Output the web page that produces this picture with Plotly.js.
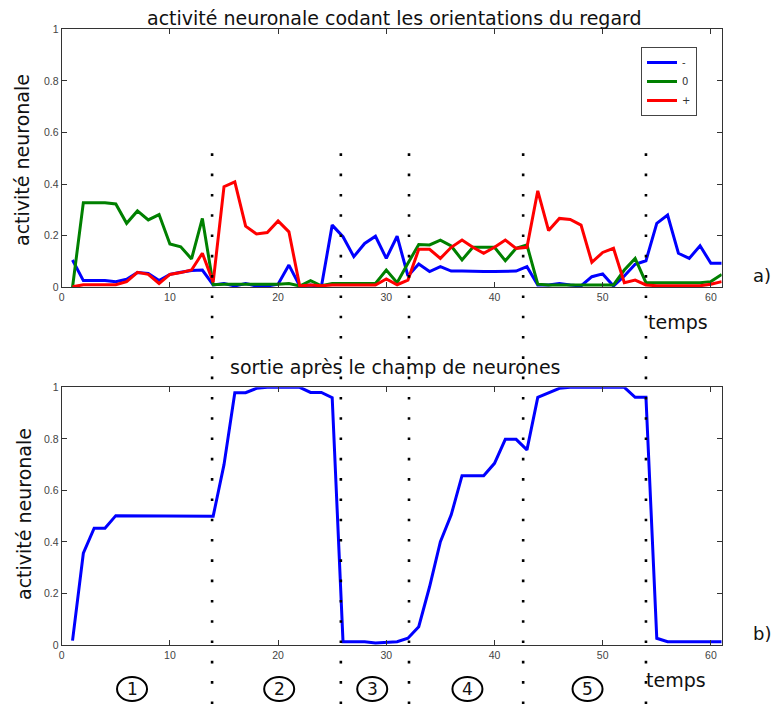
<!DOCTYPE html>
<html><head><meta charset="utf-8">
<script src="https://cdn.plot.ly/plotly-3.0.1.min.js"></script>
<style>html,body{margin:0;padding:0;background:#fff}#chart{width:772px;height:708px}</style>
</head><body><div id="chart"></div>
<script>
// ---- data ----
const timeSteps = [1,2,3,4,5,6,7,8,9,10,11,12,13,14,15,16,17,18,19,20,21,22,23,24,25,26,27,28,29,30,31,32,33,34,35,36,37,38,39,40,41,42,43,44,45,46,47,48,49,50,51,52,53,54,55,56,57,58,59,60,61];
const activityMinus = [0.106,0.026,0.026,0.026,0.022,0.031,0.057,0.054,0.026,0.050,0.058,0.065,0.067,0.009,0.015,0.005,0.015,0.005,0.005,0.012,0.086,0.005,0.009,0.002,0.241,0.196,0.119,0.170,0.198,0.112,0.198,0.044,0.090,0.061,0.080,0.063,0.063,0.061,0.061,0.061,0.063,0.063,0.080,0.009,0.009,0.015,0.009,0.005,0.041,0.052,0.005,0.044,0.089,0.103,0.248,0.280,0.132,0.112,0.161,0.093,0.093];
const activityZero = [0.000,0.328,0.328,0.328,0.323,0.248,0.296,0.261,0.282,0.168,0.157,0.110,0.267,0.010,0.012,0.012,0.012,0.012,0.012,0.012,0.015,0.005,0.026,0.006,0.015,0.015,0.015,0.015,0.015,0.067,0.018,0.093,0.166,0.164,0.183,0.160,0.106,0.155,0.155,0.155,0.103,0.151,0.164,0.012,0.009,0.009,0.009,0.009,0.009,0.009,0.009,0.067,0.112,0.018,0.018,0.018,0.018,0.018,0.018,0.022,0.050];
const activityPlus = [0.002,0.010,0.010,0.010,0.010,0.022,0.058,0.050,0.015,0.050,0.057,0.067,0.132,0.020,0.390,0.409,0.237,0.207,0.212,0.257,0.215,0.005,0.009,0.006,0.009,0.009,0.009,0.009,0.009,0.032,0.010,0.028,0.147,0.147,0.112,0.155,0.183,0.155,0.132,0.155,0.183,0.151,0.155,0.374,0.220,0.267,0.263,0.241,0.097,0.135,0.151,0.018,0.028,0.009,0.006,0.006,0.006,0.006,0.006,0.012,0.022];
const fieldOutput = [0.017,0.356,0.453,0.453,0.502,0.502,0.502,0.502,0.502,0.502,0.502,0.502,0.502,0.500,0.700,0.979,0.979,0.996,1.000,1.000,1.000,1.000,0.980,0.980,0.960,0.013,0.013,0.013,0.008,0.010,0.013,0.026,0.071,0.226,0.401,0.505,0.657,0.657,0.657,0.705,0.798,0.798,0.757,0.961,0.977,0.996,1.000,1.000,1.000,1.000,1.000,1.000,0.961,0.961,0.026,0.013,0.013,0.013,0.013,0.013,0.013];
const seriesNames = ['-', '0', '+'];
const phaseBoundaries = [13.9, 25.8, 32.1, 42.65, 54.0];
const phaseLabels = ['1', '2', '3', '4', '5'];
const xTickVals = [0, 10, 20, 30, 40, 50, 60];
const yTickVals = [0, 0.2, 0.4, 0.6, 0.8, 1];
const yTickText = ['0', '0.2', '0.4', '0.6', '0.8', '1'];

// ---- layout helpers ----
const W = 772, H = 708;
const px = x => x / W;
const py = y => 1 - y / H;
const FONT = 'DejaVu Sans, sans-serif';
const TICKFONT = {family: 'Liberation Sans, Arial, sans-serif', size: 10.5, color: '#444'};

const colors = ['#0000ff', '#008000', '#ff0000'];
const topSeries = [activityMinus, activityZero, activityPlus];

const traces = topSeries.map((vals, i) => ({
  type: 'scatter', mode: 'lines', x: timeSteps, y: vals, name: seriesNames[i],
  line: {color: colors[i], width: 3}, xaxis: 'x', yaxis: 'y', showlegend: true
}));
traces.push({
  type: 'scatter', mode: 'lines', x: timeSteps, y: fieldOutput, name: 'sortie',
  line: {color: '#0000ff', width: 3}, xaxis: 'x2', yaxis: 'y2', showlegend: false
});

function xAxis(domain) {
  return {domain: domain, range: [0, 61], tickvals: xTickVals, ticks: 'inside', ticklen: 5,
    tickcolor: '#333', showline: true, linecolor: '#333', linewidth: 1, mirror: 'allticks',
    showgrid: false, zeroline: false, tickfont: TICKFONT, fixedrange: true};
}
function yAxis(domain, anchor) {
  return {domain: domain, range: [0, 1], tickvals: yTickVals, ticktext: yTickText, ticks: 'inside', ticklen: 5,
    tickcolor: '#333', showline: true, linecolor: '#333', linewidth: 1, mirror: 'allticks',
    showgrid: false, zeroline: false, tickfont: TICKFONT, anchor: anchor, fixedrange: true};
}

const xDom = [px(61.7), px(721.7)];
const shapes = [];
phaseBoundaries.forEach(b => {
  shapes.push({type: 'line', xref: 'x', yref: 'paper', x0: b, x1: b, y0: py(153.3), y1: py(705),
    line: {color: '#000', width: 2.6, dash: '2.6px,17.7px'}, layer: 'above'});
});
const circleCenters = [6.5, 20.1, 28.7, 37.5, 48.6];
circleCenters.forEach(c => {
  shapes.push({type: 'circle', xref: 'x2', yref: 'paper', xsizemode: 'pixel', ysizemode: 'pixel',
    xanchor: c, yanchor: py(689), x0: -15, x1: 15, y0: -12, y1: 12,
    line: {color: '#000', width: 2}});
});

const annotations = [
  {text: 'activité neuronale codant les orientations du regard', x: px(394), y: py(18), font: {size: 19}},
  {text: 'sortie après le champ de neurones', x: px(395), y: py(367), font: {size: 19}},
  {text: 'activité neuronale', x: px(22), y: py(160), textangle: -90, font: {size: 19}},
  {text: 'activité neuronale', x: px(24), y: py(514), textangle: -90, font: {size: 19}},
  {text: 'temps', x: px(678), y: py(322), font: {size: 19}},
  {text: 'temps', x: px(676), y: py(680), font: {size: 19}},
  {text: 'a)', x: px(762), y: py(275), font: {size: 18}},
  {text: 'b)', x: px(762), y: py(633), font: {size: 18}}
].map(a => Object.assign({xref: 'paper', yref: 'paper', showarrow: false, xanchor: 'center', yanchor: 'middle'}, a,
  {font: Object.assign({family: FONT, color: '#111'}, a.font)}));
circleCenters.forEach((c, i) => {
  annotations.push({text: phaseLabels[i], xref: 'x2', yref: 'paper', x: c, y: py(689), showarrow: false,
    xanchor: 'center', yanchor: 'middle', font: {family: FONT, size: 17, color: '#111'}});
});

const layout = {
  width: W, height: H, margin: {l: 0, r: 0, t: 0, b: 0}, paper_bgcolor: '#fff', plot_bgcolor: '#fff',
  font: {family: FONT},
  xaxis: Object.assign(xAxis(xDom), {anchor: 'y'}),
  yaxis: yAxis([py(287.3), py(29.3)], 'x'),
  xaxis2: Object.assign(xAxis(xDom), {anchor: 'y2'}),
  yaxis2: yAxis([py(645), py(387.3)], 'x2'),
  showlegend: true,
  legend: {x: px(641), y: py(47), xanchor: 'left', yanchor: 'top', bgcolor: '#fff', bordercolor: '#444',
    borderwidth: 1, font: {family: FONT, size: 10, color: '#333'}, tracegroupgap: 0},
  shapes: shapes, annotations: annotations
};

Plotly.newPlot('chart', traces, layout, {staticPlot: true, displayModeBar: false});
</script></body></html>
